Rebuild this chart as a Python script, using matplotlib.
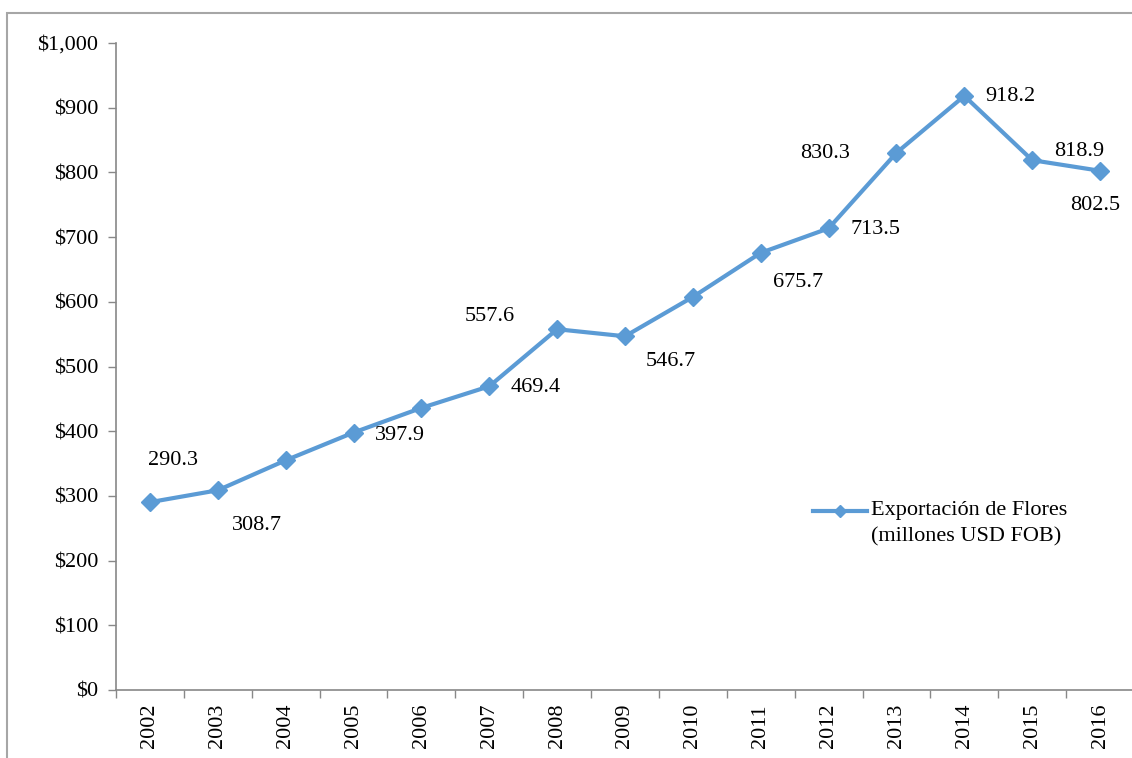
import matplotlib
matplotlib.use('Agg')
import matplotlib.pyplot as plt
from matplotlib.lines import Line2D
from matplotlib.patches import Rectangle
from matplotlib.ticker import FuncFormatter, FixedLocator

years = ['2002', '2003', '2004', '2005', '2006', '2007', '2008', '2009',
         '2010', '2011', '2012', '2013', '2014', '2015', '2016']
exports = [290.3, 308.7, 355.0, 397.9, 436.0, 469.4, 557.6, 546.7,
           607.5, 675.7, 713.5, 830.3, 918.2, 818.9, 802.5]
# which points get a data label, and where (pixel offsets)
labeled = {0: (23, 42), 1: (39, -35), 3: (46, -3), 5: (46, -1), 6: (-67, 13),
           7: (46, -25), 9: (37, -30), 10: (47, -1), 11: (-71, -1),
           12: (46, -1), 13: (47, 9), 14: (-5, -35)}

blue = '#5B9BD5'
plt.rcParams['font.family'] = ['Liberation Serif', 'DejaVu Serif']
plt.rcParams['font.size'] = 16

fig = plt.figure(figsize=(11.32, 7.58), dpi=100)
ax = fig.add_axes([116/1132, 68/758, 1018/1132, 647/758])

x = list(range(len(years)))
ax.plot(x, exports, color=blue, lw=3, marker='D', ms=9, zorder=3)

for i, (dx, dy) in labeled.items():
    ax.annotate(f'{exports[i]:.1f}', (x[i], exports[i]), xytext=(dx, dy),
                textcoords='offset pixels', ha='center', va='center', fontsize=16)

ax.set_xlim(-0.5, len(years) - 0.5)
ax.set_ylim(0, 1000)
ax.set_yticks(range(0, 1001, 100))
ax.yaxis.set_major_formatter(FuncFormatter(lambda v, p: r'\$' + f'{v:,.0f}'))
ax.set_xticks(x)
ax.set_xticklabels(years, rotation=90)
ax.xaxis.set_minor_locator(FixedLocator([i - 0.5 for i in range(len(years) + 1)]))
ax.tick_params(axis='x', which='major', length=0, pad=10)
ax.tick_params(axis='x', which='minor', length=6, color='#888888', width=1)
ax.tick_params(axis='y', length=6, color='#888888', width=1, pad=7)

for s in ['top', 'right']:
    ax.spines[s].set_visible(False)
for s in ['left', 'bottom']:
    ax.spines[s].set_color('#888888')
    ax.spines[s].set_linewidth(1.2)

# legend drawn by hand so the handle sits on the first line
fig.add_artist(Line2D([813/1132, 867/1132], [1 - 511/758] * 2, color=blue, lw=3,
                      transform=fig.transFigure))
fig.add_artist(Line2D([840/1132], [1 - 511/758], color=blue, marker='D', ms=6,
                      transform=fig.transFigure))
fig.text(871/1132, 1 - 511/758, 'Exportación de Flores', va='center', ha='left', fontsize=16)
fig.text(871/1132, 1 - 537/758, '(millones USD FOB)', va='center', ha='left', fontsize=16)

# chart frame
fig.patches.append(Rectangle((7/1132, -0.05), 1.1, 0.05 + 1 - 13/758, fill=False,
                             edgecolor='#a6a6a6', lw=1.5, transform=fig.transFigure))

fig.savefig('out.png', dpi=100)
